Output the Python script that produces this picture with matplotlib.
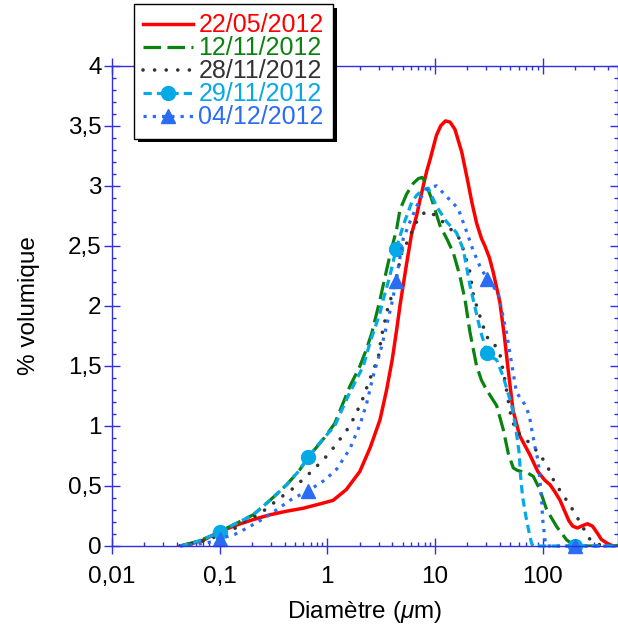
import numpy as np
import matplotlib
matplotlib.use('Agg')
import matplotlib.pyplot as plt
from matplotlib.ticker import MultipleLocator
from matplotlib.patches import Rectangle

plt.rcParams['font.family'] = ['Liberation Sans', 'DejaVu Sans']
plt.rcParams['mathtext.fontset'] = 'custom'
plt.rcParams['mathtext.rm'] = 'Liberation Sans'
plt.rcParams['mathtext.it'] = 'Liberation Sans:italic'

# series (diameter in um, % volume)
red_x = [0.043, 0.055, 0.071, 0.1, 0.144, 0.205, 0.293, 0.42, 0.6, 0.85, 1.13, 1.5, 2.0, 2.5, 3.08, 3.55,
         4.0, 4.4, 4.72, 5.44, 6.06, 6.74, 7.24, 8.36, 9.0, 10.3, 11.3, 12.5, 13.8, 15.3, 17.7, 20.0, 22.0,
         24.3, 27, 29, 32, 34.7, 40, 44, 48, 53, 61, 68, 76, 90, 104, 117, 130, 145, 160, 175, 190, 210,
         235, 260, 290, 320, 350, 400, 450, 500]
red_y = [0, 0.02, 0.05, 0.12, 0.175, 0.22, 0.26, 0.29, 0.315, 0.35, 0.38, 0.47, 0.62, 0.82, 1.05, 1.3,
         1.55, 1.8, 2.0, 2.35, 2.6, 2.75, 2.88, 3.12, 3.22, 3.42, 3.5, 3.54, 3.53, 3.47, 3.28, 3.05, 2.86,
         2.69, 2.56, 2.5, 2.4, 2.28, 2.03, 1.75, 1.45, 1.13, 0.92, 0.84, 0.76, 0.62, 0.55, 0.51, 0.45, 0.38,
         0.29, 0.21, 0.165, 0.15, 0.17, 0.185, 0.165, 0.11, 0.055, 0.02, 0.0, 0.0]

green_x = [0.043, 0.061, 0.087, 0.1, 0.144, 0.205, 0.293, 0.419, 0.55, 0.665, 0.917, 1.17, 1.62, 2.01,
           2.31, 2.58, 3.08, 3.55, 3.81, 4.4, 4.72, 5.44, 6.28, 7.0, 7.6, 8.2, 9.3, 11.1, 13.0, 14.8, 17.0,
           19.0, 21.1, 24.3, 27.0, 30.1, 37.3, 43.0, 47.9, 53.3, 58.0, 63.7, 72.0, 81.7, 94.0, 109, 135,
           167, 200, 500]
green_y = [0, 0.036, 0.09, 0.12, 0.19, 0.26, 0.38, 0.51, 0.63, 0.74, 0.89, 1.02, 1.33, 1.5, 1.64, 1.77,
           2.05, 2.3, 2.42, 2.64, 2.8, 2.93, 3.02, 3.06, 3.07, 3.02, 2.89, 2.67, 2.55, 2.44, 2.25, 2.05,
           1.78, 1.5, 1.38, 1.3, 1.17, 0.97, 0.77, 0.65, 0.63, 0.62, 0.61, 0.58, 0.47, 0.3, 0.16, 0.05,
           0.0, 0.0]

black_x = [0.043, 0.07, 0.1, 0.139, 0.178, 0.229, 0.283, 0.36, 0.466, 0.588, 0.74, 0.95, 1.17, 1.62,
           2.08, 2.48, 2.97, 3.19, 3.68, 4.1, 4.9, 5.44, 6.06, 6.74, 8.2, 10.3, 12.8, 16.4, 18.3, 21.1,
           22.6, 24.3, 28.0, 30.0, 33.5, 40.0, 44.6, 49.7, 55.0, 65.0, 76.0, 90.0, 101, 117, 127, 150,
           179, 207, 235, 265, 300, 340, 500]
black_y = [0, 0.04, 0.09, 0.148, 0.217, 0.259, 0.323, 0.398, 0.47, 0.551, 0.635, 0.733, 0.83, 1.0,
           1.2, 1.39, 1.57, 1.75, 2.0, 2.12, 2.44, 2.52, 2.61, 2.7, 2.79, 2.75, 2.67, 2.58, 2.47, 2.28,
           2.1, 2.0, 1.83, 1.74, 1.72, 1.6, 1.38, 1.12, 0.98, 0.9, 0.86, 0.78, 0.72, 0.62, 0.54, 0.44,
           0.34, 0.245, 0.16, 0.07, 0.025, 0.01, 0.0]

cyan_x = [0.043, 0.061, 0.087, 0.1, 0.144, 0.205, 0.293, 0.419, 0.55, 0.665, 0.85, 1.17, 1.56, 2.16,
          2.5, 3.08, 3.3, 3.81, 4.34, 5.07, 6.06, 6.74, 7.8, 8.66, 10.3, 12.8, 15.8, 18.3, 21.1, 24.3,
          26.6, 30.5, 34.0, 37.3, 43.0, 49.6, 53.3, 57.0, 60.5, 62.3, 65.0, 69.8, 75.0, 78.9, 81.7,
          200, 500]
cyan_y = [0, 0.036, 0.09, 0.12, 0.19, 0.26, 0.38, 0.51, 0.63, 0.74, 0.86, 1.0, 1.25, 1.5, 1.7, 1.94,
          2.05, 2.25, 2.47, 2.67, 2.86, 2.92, 2.97, 2.98, 2.83, 2.7, 2.61, 2.47, 2.17, 1.93, 1.78, 1.61,
          1.57, 1.55, 1.41, 1.22, 1.11, 0.94, 0.77, 0.58, 0.41, 0.245, 0.106, 0.02, 0.0, 0.0, 0.0]
cyan_marks = [0.1, 0.665, 4.34, 30.5, 200]

blue_x = [0.043, 0.053, 0.07, 0.084, 0.1, 0.139, 0.178, 0.229, 0.289, 0.466, 0.665, 0.95, 1.22, 1.62,
          2.01, 2.32, 2.67, 3.19, 3.6, 4.04, 4.34, 5.07, 5.85, 7.24, 8.36, 10.3, 12.8, 16.4, 19.6, 22.6,
          26.1, 30.6, 38.5, 46.0, 57.0, 68.0, 75.0, 79.0, 85.0, 91.0, 94.0, 97.6, 100, 105, 108, 200, 500]
blue_y = [0, 0.01, 0.02, 0.035, 0.06, 0.098, 0.148, 0.203, 0.259, 0.39, 0.46, 0.55, 0.64, 0.81, 1.01,
          1.19, 1.42, 1.66, 1.86, 2.05, 2.21, 2.56, 2.7, 2.89, 2.97, 3.0, 2.91, 2.81, 2.62, 2.46, 2.33,
          2.22, 2.11, 1.78, 1.28, 1.18, 1.09, 0.97, 0.82, 0.7, 0.55, 0.38, 0.22, 0.05, 0.0, 0.0, 0.0]
blue_marks = [0.1, 0.665, 4.34, 30.6, 200]

labels = ['22/05/2012', '12/11/2012', '28/11/2012', '29/11/2012', '04/12/2012']

x_ticks = [0.01, 0.1, 1, 10, 100]
x_tick_labels = ['0,01', '0,1', '1', '10', '100']
y_ticks = [0, 0.5, 1, 1.5, 2, 2.5, 3, 3.5, 4]
y_tick_labels = ['0', '0,5', '1', '1,5', '2', '2,5', '3', '3,5', '4']

axis_blue = '#2f2fe0'
fs = 17.5

fig = plt.figure(figsize=(6.18, 6.25), dpi=100)
ax = fig.add_axes([0.1812, 0.1264, 0.8188, 0.7685])
ax.patch.set_visible(False)

lw = 2.3
l_red, = ax.plot(red_x, red_y, '-', color='#ff0000', lw=lw + 0.2)
l_green, = ax.plot(green_x, green_y, color='#0a820f', lw=lw, dashes=(5.5, 2.0))
l_black, = ax.plot(black_x, black_y, color='#333333', lw=lw + 0.3, dashes=(0.01, 3.2),
                   dash_capstyle='round')
cyan_idx = [cyan_x.index(v) for v in cyan_marks]
l_cyan, = ax.plot(cyan_x, cyan_y, color='#05a9e6', lw=lw, dashes=(2.6, 1.6),
                  marker='o', markersize=10, markevery=cyan_idx)
blue_idx = [blue_x.index(v) for v in blue_marks]
l_blue, = ax.plot(blue_x, blue_y, color='#2a6cf4', lw=lw, dashes=(1.0, 1.9),
                  marker='^', markersize=10, markevery=blue_idx)
for ln in (l_cyan, l_blue):
    ln.set_clip_on(False)

ax.set_xscale('log')
ax.set_xlim(0.01, 500)
ax.set_ylim(0, 4)
ax.set_xticks(x_ticks, labels=x_tick_labels)
ax.set_yticks(y_ticks, labels=y_tick_labels)
ax.yaxis.set_minor_locator(MultipleLocator(0.1))

for sp in ax.spines.values():
    sp.set_color(axis_blue)
    sp.set_linewidth(1.0)
ax.tick_params(which='major', direction='inout', length=11, width=1, color=axis_blue,
               top=True, right=True, labelsize=fs, labelcolor='black')
ax.tick_params(which='minor', direction='in', length=3.2, width=1, color=axis_blue,
               top=True, right=True)
ax.tick_params(axis='x', which='major', pad=9)
ax.tick_params(axis='y', which='major', pad=2)

ax.set_xlabel(r'Diamètre ($\mu$m)', fontsize=fs, labelpad=8)
ax.set_ylabel('% volumique', fontsize=fs, labelpad=20)

leg = fig.legend([l_red, l_green, l_black, l_cyan, l_blue], labels, loc='upper left',
                 bbox_to_anchor=(134 / 618, 1 - 4 / 625), fontsize=18, labelcolor='linecolor',
                 frameon=True, fancybox=False, framealpha=1, edgecolor='black',
                 handlelength=2.0, handletextpad=0.2, borderpad=0.37, labelspacing=-0.04,
                 borderaxespad=0)
leg.get_frame().set_linewidth(1.0)
leg.set_zorder(10)

# solid black drop shadow like the original
fig.canvas.draw()
bb = leg.get_window_extent().transformed(fig.transFigure.inverted())
off_x, off_y = 4 / 618, 4 / 625
shadow = Rectangle((bb.x0 + off_x, bb.y0 - off_y), bb.width, bb.height,
                   transform=fig.transFigure, facecolor='black', edgecolor='none', zorder=9)
fig.add_artist(shadow)

fig.savefig('out.png', dpi=100)
